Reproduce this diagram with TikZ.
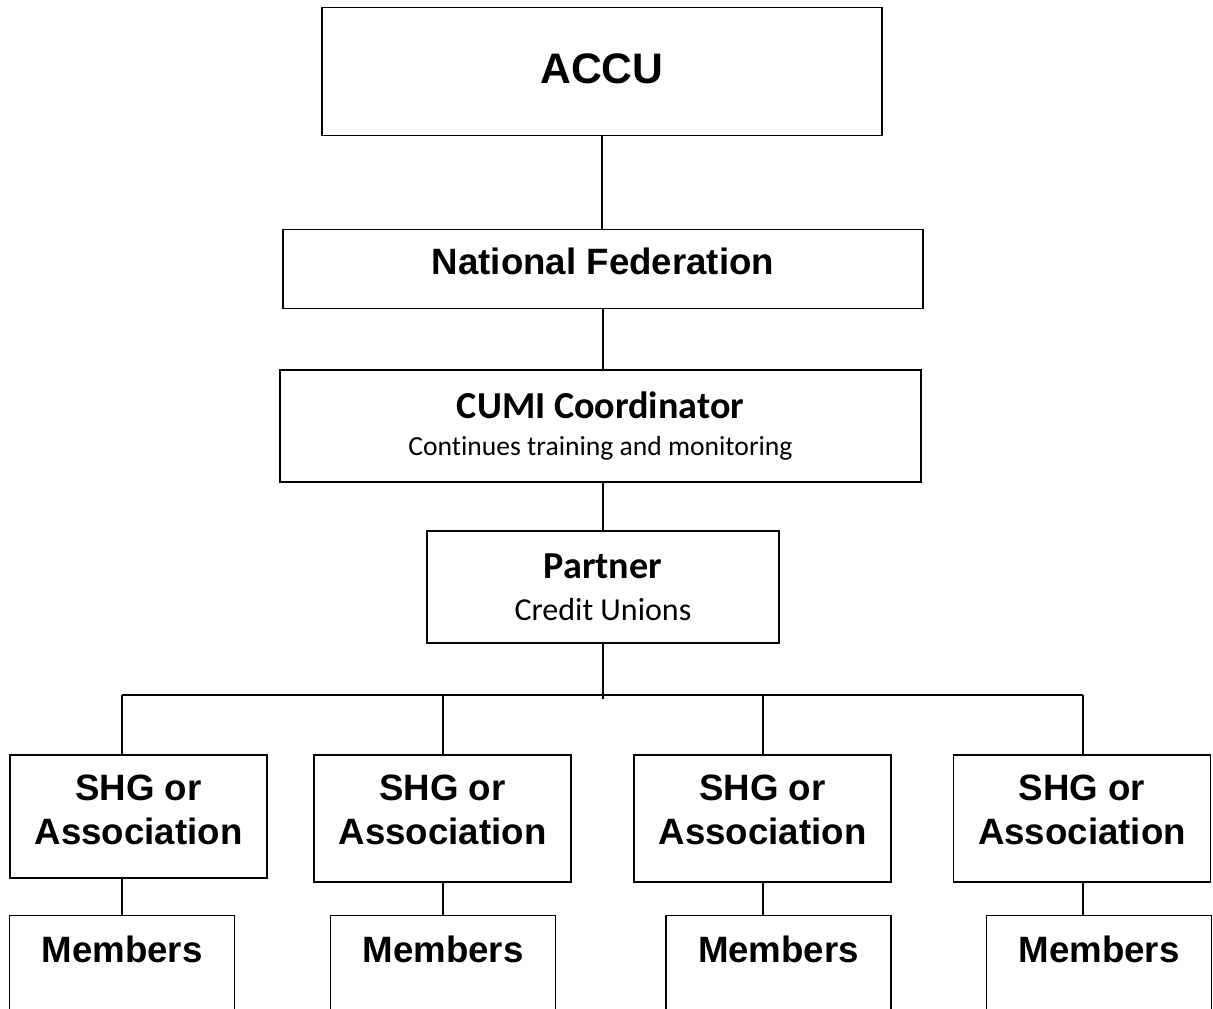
\documentclass[tikz,border=0pt]{standalone}
\usepackage{fontspec}
\setmainfont{Liberation Sans}
\newfontfamily\calibfont[Ligatures=NoCommon]{Carlito}

\begin{document}
\begin{tikzpicture}[x=0.75pt, y=-0.75pt, line width=1.3pt,
    box/.style={draw, rectangle, align=center, inner sep=0pt},
    bigtext/.style={font=\bfseries\fontsize{27.5}{32.5}\selectfont}]
    % Page frame
    \useasboundingbox (0,0) rectangle (1213,1008);
    \clip (0,0) rectangle (1213,1008);

    % Top of the chain
    \node[box, minimum width=420pt, minimum height=96pt, text depth=4.5pt,
          font=\bfseries\fontsize{32}{38}\selectfont] (accu) at (602,71.5) {ACCU};
    \node[box, minimum width=480pt, minimum height=59.25pt, text depth=11.7pt,
          font=\bfseries\fontsize{27.5}{33}\selectfont] (natfed) at (603,269) {National Federation};
    \node[box, minimum width=480.75pt, minimum height=84pt,
          font=\calibfont\fontsize{20.7}{27.5}\selectfont] (cumi) at (600.5,426)
          {{\bfseries\fontsize{28.6}{27.5}\selectfont CUMI Coordinator}\\Continues training and monitoring};
    \node[box, minimum width=264pt, minimum height=84pt,
          font=\calibfont\fontsize{24}{31.2}\selectfont] (partner) at (603,587)
          {{\bfseries\fontsize{28.6}{31.2}\selectfont Partner}\\Credit Unions};

    % Links down the chain
    \draw (accu.south) -- (accu.south |- natfed.north);
    \draw (natfed.south) -- (natfed.south |- cumi.north);
    \draw (partner.north |- cumi.south) -- (partner.north);

    % Bus to the groups
    \coordinate (hub) at (602,699);
    \coordinate (left) at (122,695);
    \coordinate (right) at (1083,695);
    \draw (partner.south) -- (partner.south |- hub);
    \draw (left) -- (right);

    % Groups and their members
    \foreach \i/\dx/\sx/\sd/\mx in {1/122/138.5/10.8/122, 2/443/442.5/13.8/443,
                                    3/763/762.5/13.8/778.5, 4/1083/1082/13.8/1099} {
        \coordinate (drop\i) at (\dx,695);
        \node[box, bigtext, anchor=north, minimum width=192.75pt, inner ysep=14.5pt,
              text height=52.5pt, text depth=\sd pt] (shg\i) at (\sx,754) {SHG or\\Association};
        \node[box, bigtext, anchor=north, minimum width=168.75pt, inner ysep=16pt,
              text height=19.5pt, text depth=70pt] (mem\i) at (\mx,914.5) {Members};
        \draw (drop\i) -- (drop\i |- shg\i.north);
        \draw (drop\i |- shg\i.south) -- (drop\i |- mem\i.north);
    }
\end{tikzpicture}
\end{document}
